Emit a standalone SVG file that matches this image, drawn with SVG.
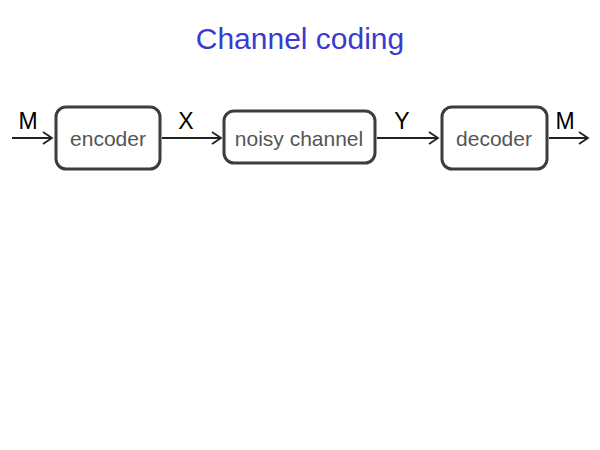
<svg xmlns="http://www.w3.org/2000/svg" width="600" height="450" viewBox="0 0 600 450">
<style>
.box{fill:#fff;stroke:#3c3c3c;stroke-width:3}
.lbl{font-family:"Liberation Sans",Arial,sans-serif;font-size:21px;fill:#555;text-anchor:middle}
.var{font-family:"Liberation Sans",Arial,sans-serif;font-size:23px;fill:#000;text-anchor:middle}
.ar{stroke:#222;stroke-width:2;fill:none}
</style>
<defs>
<marker id="ah" markerWidth="12" markerHeight="14" refX="10" refY="7" orient="auto" markerUnits="userSpaceOnUse">
<path d="M1,1 L10,7 L1,13" fill="none" stroke="#222" stroke-width="1.8"/>
</marker>
</defs>
<rect width="600" height="450" fill="#fff"/>
<text x="300" y="49" font-family="'Liberation Sans',Arial,sans-serif" font-size="30" fill="#3a3ad0" text-anchor="middle">Channel coding</text>
<g id="connectors">
<line class="ar" x1="12" y1="138" x2="52" y2="138" marker-end="url(#ah)"/>
<line class="ar" x1="162" y1="138" x2="221" y2="138" marker-end="url(#ah)"/>
<line class="ar" x1="377" y1="138" x2="438" y2="138" marker-end="url(#ah)"/>
<line class="ar" x1="549" y1="138" x2="588" y2="138" marker-end="url(#ah)"/>
<text class="var" x="28" y="129">M</text>
<text class="var" x="186" y="129">X</text>
<text class="var" x="402" y="129">Y</text>
<text class="var" x="565" y="129">M</text>
</g>
<g id="encoder">
<rect class="box" x="56" y="107" width="104" height="62" rx="10"/>
<text class="lbl" x="108" y="146">encoder</text>
</g>
<g id="channel">
<rect class="box" x="224" y="111" width="151" height="52" rx="10"/>
<text class="lbl" x="299" y="146">noisy channel</text>
</g>
<g id="decoder">
<rect class="box" x="442" y="107" width="105" height="62" rx="10"/>
<text class="lbl" x="494" y="146">decoder</text>
</g>
</svg>
